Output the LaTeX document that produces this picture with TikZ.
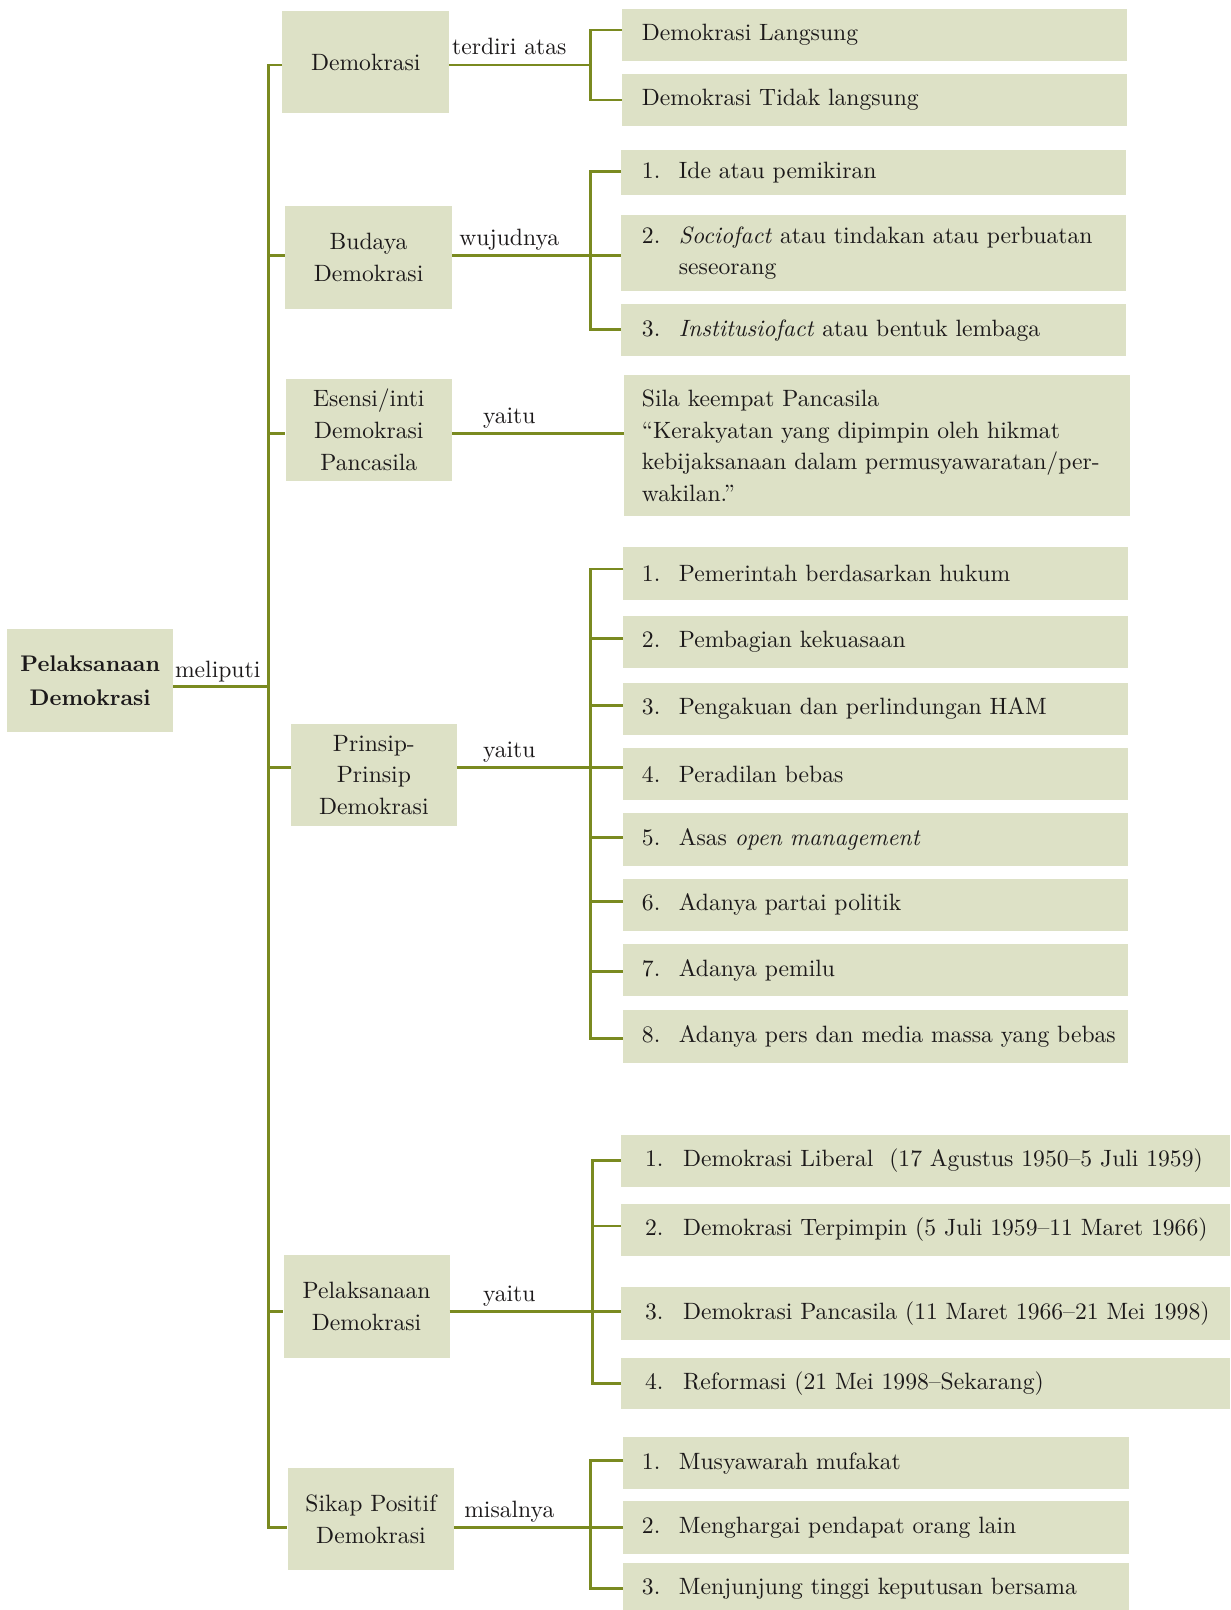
\documentclass[tikz,border=0pt]{standalone}
\usepackage{fontspec}
\setmainfont{lmroman10-regular.otf}[BoldFont=lmroman10-bold.otf, ItalicFont=lmroman10-italic.otf, BoldItalicFont=lmroman10-bolditalic.otf]
\definecolor{boxfill}{RGB}{221,225,198}
\definecolor{linec}{RGB}{122,138,32}
\definecolor{txt}{RGB}{28,25,26}
\newcommand{\nm}[1]{\makebox[36pt][l]{#1}}
\newcommand{\nmw}[1]{\makebox[37pt][l]{#1}}
\begin{document}
\begin{tikzpicture}[x=1pt,y=-1pt, font=\fontsize{23}{31}\selectfont, text=txt,
  lbox/.style={fill=boxfill, anchor=north west, inner sep=0pt, align=center},
  ibox/.style={fill=boxfill, anchor=north west, inner ysep=0pt, inner xsep=#1, align=left},
  ibox/.default=19pt,
  conn/.style={draw=linec, line width=2.8pt},
  lbl/.style={anchor=base, inner sep=0pt}]
\useasboundingbox (0,0) rectangle (1198,1568);

% root
\node[lbox, minimum width=161.7pt, minimum height=100.4pt, font=\fontsize{22}{34}\selectfont\bfseries] (root) at (6.8,612.6) {Pelaksanaan\\Demokrasi};

% left column
\node[lbox, minimum width=162.6pt, minimum height=99.3pt] (dem) at (274.7,10.7) {Demokrasi};
\node[lbox, minimum width=162.4pt, minimum height=100.4pt] (bud) at (277.6,200.6) {Budaya\\Demokrasi};
\node[lbox, minimum width=162.1pt, minimum height=99.7pt] (ese) at (277.9,368.5) {Esensi/inti\\Demokrasi\\Pancasila};
\node[lbox, minimum width=161.7pt, minimum height=100pt] (pri) at (283.1,704.5) {Prinsip-\\Prinsip\\Demokrasi};
\node[lbox, minimum width=161.6pt, minimum height=99.6pt] (pel) at (276,1222.4) {Pelaksanaan\\Demokrasi};
\node[lbox, minimum width=162.3pt, minimum height=99.5pt] (sik) at (279.9,1429.5) {Sikap Positif\\Demokrasi};

% labels
\node[lbl] (lm) at (212,659.5) {meliputi};
\node[lbl] (l1) at (496,53.3) {terdiri atas};
\node[lbl] (l2) at (496,239) {wujudnya};
\node[lbl] (l3) at (496,412) {yaitu};
\node[lbl] (l4) at (496,737.7) {yaitu};
\node[lbl] (l5) at (496,1267.6) {yaitu};
\node[lbl] (l6) at (496,1478) {misalnya};

% Demokrasi group
\node[ibox, minimum width=491pt, minimum height=51.3pt, text width=453pt] (a1) at (606,8.1) {\mbox{Demokrasi Langsung}};
\node[ibox, minimum width=491pt, minimum height=51.3pt, text width=453pt] (a2) at (606,71.4) {\mbox{Demokrasi Tidak langsung}};

% Budaya group
\node[ibox=20pt, minimum width=491pt, minimum height=43.5pt, text width=451pt] (b1) at (605,146.1) {\mbox{\nm{1.}Ide atau pemikiran}};
\node[ibox=20pt, minimum width=491pt, minimum height=73.7pt, text width=451pt] (b2) at (605,209.4) {\mbox{\nm{2.}\textit{Sociofact} atau tindakan atau perbuatan}\\\mbox{\hspace*{36pt}seseorang}};
\node[ibox=20pt, minimum width=491pt, minimum height=50.6pt, text width=451pt] (b3) at (605,296.1) {\mbox{\nm{3.}\textit{Institusiofact} atau bentuk lembaga}};

% Sila
\node[ibox=17pt, minimum width=492pt, minimum height=137.3pt, text width=458pt] (sila) at (608,365.3) {\mbox{Sila keempat Pancasila}\\\mbox{“Kerakyatan yang dipimpin oleh hikmat}\\\mbox{kebijaksanaan dalam permusyawaratan/per-}\\\mbox{wakilan.”}};

% Prinsip group
\node[ibox=18pt, minimum width=491pt, minimum height=51.2pt, text width=455pt] (c1) at (607,532.5) {\mbox{\nm{1.}Pemerintah berdasarkan hukum}};
\node[ibox=18pt, minimum width=491pt, minimum height=50.3pt, text width=455pt] (c2) at (607,599.7) {\mbox{\nm{2.}Pembagian kekuasaan}};
\node[ibox=18pt, minimum width=491pt, minimum height=51.5pt, text width=455pt] (c3) at (607,664.5) {\mbox{\nm{3.}Pengakuan dan perlindungan HAM}};
\node[ibox=18pt, minimum width=491pt, minimum height=51pt, text width=455pt] (c4) at (607,728.2) {\mbox{\nm{4.}Peradilan bebas}};
\node[ibox=18pt, minimum width=491pt, minimum height=51.3pt, text width=455pt] (c5) at (607,791.5) {\mbox{\nm{5.}Asas \textit{open management}}};
\node[ibox=18pt, minimum width=491pt, minimum height=51pt, text width=455pt] (c6) at (607,855.5) {\mbox{\nm{6.}Adanya partai politik}};
\node[ibox=18pt, minimum width=491pt, minimum height=50.6pt, text width=455pt] (c7) at (607,919.5) {\mbox{\nm{7.}Adanya pemilu}};
\node[ibox=18pt, minimum width=491pt, minimum height=51.2pt, text width=455pt] (c8) at (607,983.8) {\mbox{\nm{8.}Adanya pers dan media massa yang bebas}};

% Pelaksanaan group
\node[ibox=23pt, minimum width=593pt, minimum height=51pt, text width=547pt] (d1) at (605,1105) {\mbox{\nmw{1.}Demokrasi Liberal\ \ (17 Agustus 1950–5 Juli 1959)}};
\node[ibox=23pt, minimum width=593pt, minimum height=51pt, text width=547pt] (d2) at (605,1172) {\mbox{\nmw{2.}Demokrasi Terpimpin (5 Juli 1959–11 Maret 1966)}};
\node[ibox=23pt, minimum width=593pt, minimum height=51.5pt, text width=547pt] (d3) at (605,1253) {\mbox{\nmw{3.}Demokrasi Pancasila (11 Maret 1966–21 Mei 1998)}};
\node[ibox=23pt, minimum width=593pt, minimum height=50pt, text width=547pt] (d4) at (605,1322) {\mbox{\nmw{4.}Reformasi (21 Mei 1998–Sekarang)}};

% Sikap group
\node[ibox=18pt, minimum width=492pt, minimum height=50.4pt, text width=456pt] (e1) at (607,1399.6) {\mbox{\nm{1.}Musyawarah mufakat}};
\node[ibox=18pt, minimum width=492pt, minimum height=51pt, text width=456pt] (e2) at (607,1462) {\mbox{\nm{2.}Menghargai pendapat orang lain}};
\node[ibox=18pt, minimum width=492pt, minimum height=51pt, text width=456pt] (e3) at (607,1522) {\mbox{\nm{3.}Menjunjung tinggi keputusan bersama}};

% coordinates
\coordinate (tr) at (261.5,63.3);
\coordinate (trb) at (261.5,1488);
\coordinate (ba) at (575,0);
\coordinate (bb) at (575,0);
\coordinate (bd) at (575,0);
\coordinate (be) at (577,0);
\coordinate (bf) at (575,0);

% trunk
\draw[conn] (dem.west |- tr) -- (tr) -- (trb) -- (sik.west |- trb);
\draw[conn] (root.east |- 0,669) -- (tr |- 0,669);
\draw[conn] (tr |- 0,249) -- (bud.west |- 0,249);
\draw[conn] (tr |- 0,422) -- (ese.west |- 0,422);
\draw[conn] (tr |- 0,747.7) -- (pri.west |- 0,747.7);
\draw[conn] (tr |- 0,1277.6) -- (pel.west |- 0,1277.6);

% Demokrasi group
\draw[conn] (dem.east |- 0,63.3) -- (ba |- 0,63.3);
\draw[conn] (a1.west |- 0,29.2) -- (ba |- 0,29.2) -- (ba |- 0,97.4) -- (a2.west |- 0,97.4);

% Budaya group
\draw[conn] (bud.east |- 0,249) -- (b2.west |- 0,249);
\draw[conn] (b1.west |- 0,167.2) -- (bb |- 0,167.2) -- (bb |- 0,320.8) -- (b3.west |- 0,320.8);

% Esensi
\draw[conn] (ese.east |- 0,422) -- (sila.west |- 0,422);

% Prinsip group
\draw[conn] (pri.east |- 0,747.7) -- (c4.west |- 0,747.7);
\draw[conn] (c1.west |- 0,554.2) -- (bd |- 0,554.2) -- (bd |- 0,1011.3) -- (c8.west |- 0,1011.3);
\foreach \n/\yy in {c2/622,c3/686.7,c5/815.9,c6/878.2,c7/946.4}
  \draw[conn] (bd |- 0,\yy) -- (\n.west |- 0,\yy);

% Pelaksanaan group
\draw[conn] (pel.east |- 0,1277.6) -- (d3.west |- 0,1277.6);
\draw[conn] (d1.west |- 0,1130) -- (be |- 0,1130) -- (be |- 0,1347) -- (d4.west |- 0,1347);
\draw[conn] (be |- 0,1194) -- (d2.west |- 0,1194);

% Sikap group
\draw[conn] (sik.east |- 0,1488) -- (e2.west |- 0,1488);
\draw[conn] (e1.west |- 0,1422) -- (bf |- 0,1422) -- (bf |- 0,1547) -- (e3.west |- 0,1547);
\end{tikzpicture}
\end{document}
